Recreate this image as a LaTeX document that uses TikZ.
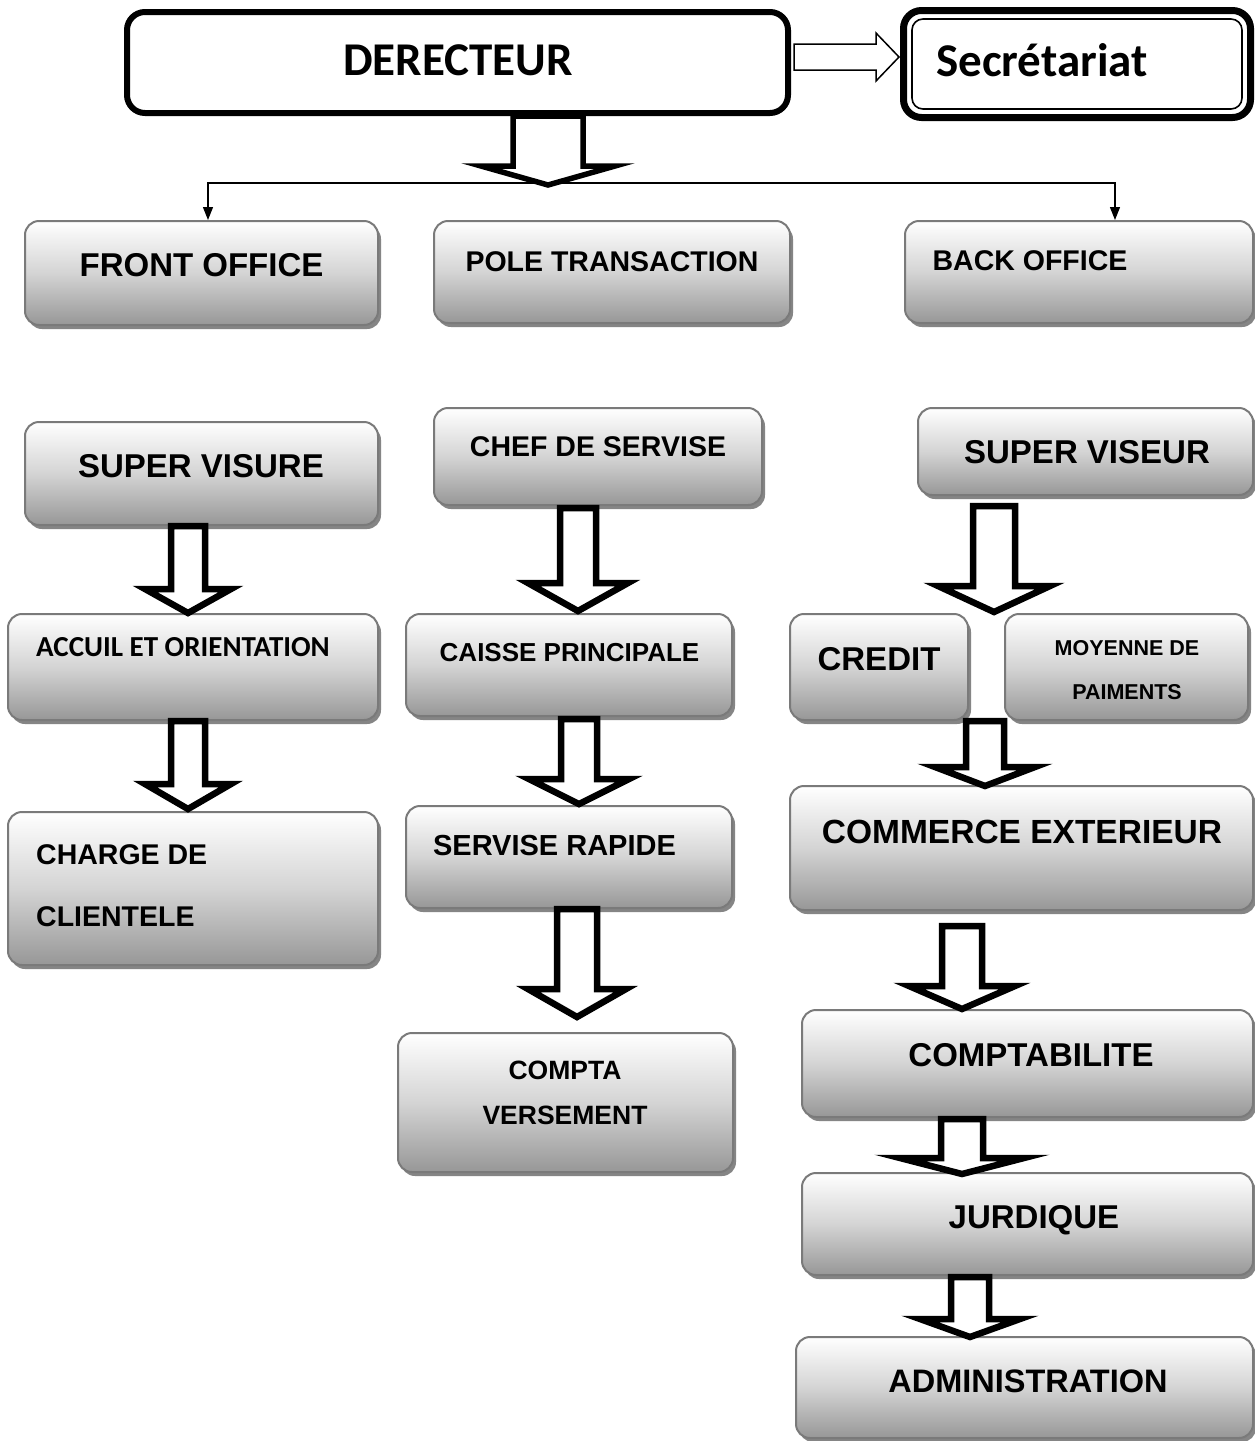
\documentclass[tikz,border=0pt]{standalone}
\usepackage{fontspec}
\newfontfamily\arialf{Liberation Sans}
\newfontfamily\calf{Carlito}
\usetikzlibrary{shadows,arrows.meta,calc}
\definecolor{boxedge}{HTML}{7A7A7A}
\definecolor{boxlow}{HTML}{979797}
\definecolor{boxmid}{HTML}{D4D4D4}
\definecolor{boxshade}{HTML}{858585}

\tikzset{
  gbox/.style={draw=boxedge, line width=2pt, rounded corners=14pt,
    top color=white, bottom color=boxlow, middle color=boxmid, inner sep=0pt,
    drop shadow={shadow xshift=3pt, shadow yshift=-4pt, fill=boxshade, opacity=1}},
  ar/.style={font=\arialf\bfseries\fontsize{#1pt}{#1pt}\selectfont, anchor=base,
    yshift=-0.358*#1pt, inner sep=0pt},
  arl/.style={ar=#1, anchor=base west},
  cb/.style={font=\calf\bfseries\fontsize{#1pt}{#1pt}\selectfont, anchor=base,
    yshift=-0.322*#1pt, inner sep=0pt},
  blk/.style={draw=black, fill=white, line width=6.5pt, line join=miter},
  thinblk/.style={draw=black, fill=white, line width=1.5pt, line join=miter},
  link/.style={draw=black, line width=1.2pt, -{Triangle[length=13pt,width=10pt]}},
}

% shaded box from its outer corners (x1,y1) (x2,y2)
\newcommand\gbox[5]{%
  \pgfmathsetmacro\bxc{(#2+#4)/2}%
  \pgfmathsetmacro\byc{(#3+#5)/2}%
  \pgfmathsetmacro\bw{#4-#2}%
  \pgfmathsetmacro\bh{#5-#3}%
  \node[gbox, minimum width=\bw pt, minimum height=\bh pt] (#1) at (\bxc,\byc) {};}

% hollow block arrow pointing down:
% start, end, centre x, half shaft, half head, head length, start gap, end gap
\newcommand\barrow[9][blk]{%
  \draw[#1] let \p1=(#2), \p2=(#3) in
    ({(#4-#5)*1pt},{\y1-(#8)*1pt}) -- ({(#4+#5)*1pt},{\y1-(#8)*1pt})
    -- ({(#4+#5)*1pt},{\y2+((#9)+(#7))*1pt}) -- ({(#4+#6)*1pt},{\y2+((#9)+(#7))*1pt})
    -- ({#4*1pt},{\y2+(#9)*1pt}) -- ({(#4-#6)*1pt},{\y2+((#9)+(#7))*1pt})
    -- ({(#4-#5)*1pt},{\y2+((#9)+(#7))*1pt}) -- cycle;}

\begin{document}
\begin{tikzpicture}[x=1pt,y=-1pt]
\useasboundingbox[fill=white] (0,0) rectangle (1255,1441);

% top level
\node[draw=black, line width=6pt, rounded corners=18pt, fill=white,
      minimum width=661pt, minimum height=101pt, inner sep=0pt] (dir) at (457.5,62.5) {};
\node[cb=47] (dirt) at (458,60) {DERECTEUR};

\node[draw=black, line width=7pt, rounded corners=18pt, fill=white,
      minimum width=347pt, minimum height=107pt, inner sep=0pt] (sec) at (1077,64) {};
\draw[line width=1.6pt, rounded corners=11pt]
  ($(sec.north west)+(12,12)$) rectangle ($(sec.south east)+(-12,-12)$);
\node[cb=47] (sect) at (1042,61.5) {Secrétariat};

% arrow director -> secretariat
\draw[thinblk] let \p1=(dir.east), \p2=(sec.west) in
  ({\x1+3pt},-44pt) -- (876pt,-44pt) -- (876pt,-33pt) -- ({\x2-1pt},-57pt)
  -- (876pt,-81pt) -- (876pt,-70pt) -- ({\x1+3pt},-70pt) -- cycle;

% second level boxes
\gbox{fo}{25}{221}{378}{325}
\gbox{pt}{434}{221}{790}{323}
\gbox{bo}{905}{221}{1253}{323}
\node[ar=33] (fot) at (201.5,265) {FRONT OFFICE};
\node[ar=28.5] (ptt) at (612,261) {POLE TRANSACTION};
\node[ar=28.5] (bot) at (1030,260) {BACK OFFICE};

% distribution line
\coordinate (split) at (548,183);
\draw[link] (split) -| ([xshift=6.5pt]fo.north);
\draw[link] (split) -| ([xshift=36pt]bo.north);
\barrow[blk, line width=5.5pt]{dir.south}{split}{548}{35}{67}{19}{0}{-2}

% third level
\gbox{sv1}{25}{422}{378}{525}
\gbox{cs}{434}{408}{762}{505}
\gbox{sv2}{918}{408}{1253}{495}
\node[ar=33] (sv1t) at (201,466) {SUPER VISURE};
\node[ar=28.5] (cst) at (598,446) {CHEF DE SERVISE};
\node[ar=33] (sv2t) at (1087,452) {SUPER VISEUR};

% fourth level
\gbox{ao}{8}{614}{378}{720}
\gbox{cp}{406}{614}{732}{716}
\gbox{cr}{790}{614}{968}{720}
\gbox{mp}{1005}{614}{1248}{720}
\node[cb=29] (aot) at (183,647) {ACCUIL ET ORIENTATION};
\node[ar=26] (cpt) at (569.5,652) {CAISSE PRINCIPALE};
\node[ar=33] (crt) at (879,659) {CREDIT};
\node[ar=21.5] (mpt1) at (1127,648) {MOYENNE DE};
\node[ar=21.5] (mpt2) at (1127,692) {PAIMENTS};

% fifth level
\gbox{cc}{8}{812}{378}{965}
\gbox{sr}{406}{806}{732}{908}
\gbox{ce}{790}{786}{1253}{910}
\node[arl=28.5] (cct1) at (36,854) {CHARGE DE};
\node[arl=28.5] (cct2) at (36,916) {CLIENTELE};
\node[ar=29] (srt) at (554.5,845) {SERVISE RAPIDE};
\node[ar=33.5] (cet) at (1022,831) {COMMERCE EXTERIEUR};

% lower boxes
\gbox{cv}{398}{1033}{733}{1172}
\gbox{ca}{802}{1010}{1253}{1117}
\gbox{ju}{802}{1173}{1253}{1275}
\gbox{ad}{796}{1337}{1253}{1438}
\node[ar=26.5] (cvt1) at (565,1070) {COMPTA};
\node[ar=26.5] (cvt2) at (565,1115) {VERSEMENT};
\node[ar=33] (cat) at (1031,1055) {COMPTABILITE};
\node[ar=33] (jut) at (1034,1217) {JURDIQUE};
\node[ar=32.5] (adt) at (1028,1381) {ADMINISTRATION};

% block arrows between services
\barrow{sv1.south}{ao.north}{188}{17}{43}{24}{0}{0}
\barrow{ao.south}{cc.north}{188}{17}{43}{25}{0}{2}
\barrow{cs.south}{cp.north}{578}{18}{50}{28}{2}{2}
\barrow{cp.south}{sr.north}{579}{18}{50}{25}{2}{1}
\barrow{sr.south}{cv.north}{577}{20}{49}{28}{0}{15}
\barrow{sv2.south}{cr.north}{994}{21}{56}{26}{10}{1}
\barrow{cr.south}{ce.north}{985}{19}{50}{19}{0}{-1}
\barrow{ce.south}{ca.north}{962}{20}{53}{23}{15}{0}
\barrow{ca.south}{ju.north}{962}{21}{62}{16}{1}{-2}
\barrow{ju.south}{ad.north}{970}{19}{50}{18}{1}{-1}
\end{tikzpicture}
\end{document}
